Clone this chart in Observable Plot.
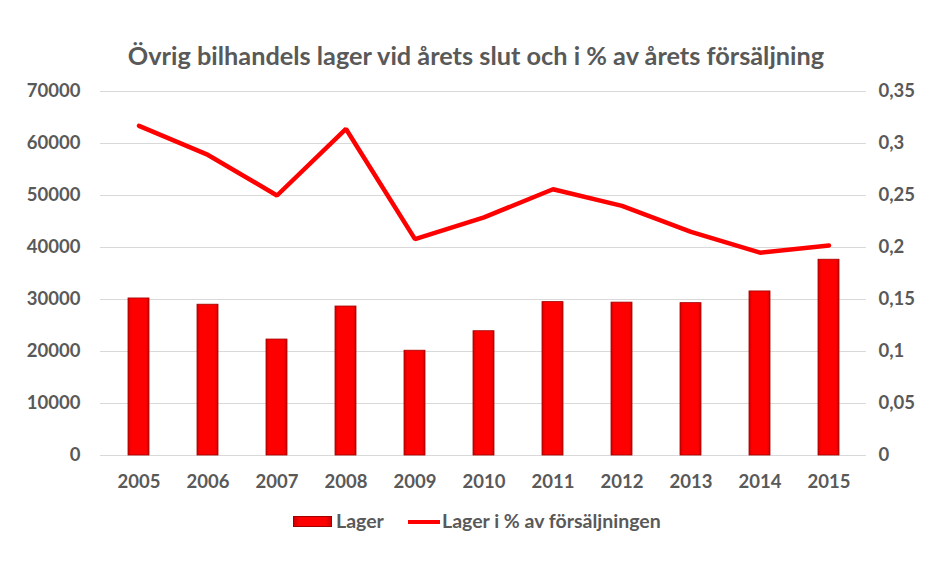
<!DOCTYPE html>
<html>
<head>
<meta charset="utf-8">
<script src="https://cdn.jsdelivr.net/npm/d3@7"></script>
<script src="https://cdn.jsdelivr.net/npm/@observablehq/plot@0.6"></script>
<style>
  html, body { margin: 0; padding: 0; background: #fff; overflow: hidden; width: 952px; height: 570px; }
  #wrap { position: relative; width: 952px; height: 570px; overflow: hidden; font-family: Lato, sans-serif; color: #595959; }
  #title { position: absolute; left: 0; width: 952px; top: 39px; text-align: center; font-weight: bold; font-size: 25.3px; line-height: 32px; }
  #chart { position: absolute; left: 0; top: 0; width: 952px; height: 570px; }
  #chart svg { display: block; max-width: none !important; }
  .leg { position: absolute; font-weight: bold; font-size: 19.5px; line-height: 24px; top: 509px; }
  .sw-bar { position: absolute; left: 293px; top: 516px; width: 39px; height: 11px; background: linear-gradient(to right, #d00000, #ff0000 15%, #ff0000 85%, #d00000); border: 1px solid #a00000; box-sizing: border-box; }
  .sw-line { position: absolute; left: 408px; top: 520px; width: 32px; height: 4px; background: #ff0000; }
</style>
</head>
<body>
<div id="wrap">
  <div id="chart"></div>
  <div id="title">Övrig bilhandels lager vid årets slut och i % av årets försäljning</div>
  <span class="sw-bar"></span><span class="leg" style="left:336px">Lager</span>
  <span class="sw-line"></span><span class="leg" style="left:442px">Lager i % av försäljningen</span>
</div>
<script>
const years = ["2005","2006","2007","2008","2009","2010","2011","2012","2013","2014","2015"];
const lager = [30200, 29000, 22300, 28650, 20150, 23900, 29500, 29400, 29300, 31550, 37650];
const andel = [0.317, 0.289, 0.250, 0.314, 0.208, 0.229, 0.256, 0.240, 0.215, 0.195, 0.202];
const leftTicks = [0, 10000, 20000, 30000, 40000, 50000, 60000, 70000];
const rightTicks = [0, 0.05, 0.1, 0.15, 0.2, 0.25, 0.3, 0.35];

const ratio = 70000 / 0.35;
const bars = years.map((y, i) => ({year: y, value: lager[i]}));
const line = years.map((y, i) => ({year: y, value: andel[i] * ratio}));
const rightPos = rightTicks.map(t => t * ratio);
const fmtRight = d => d === 0 ? "0" : String(+(d / ratio).toFixed(2)).replace(".", ",");

const chart = Plot.plot({
  width: 952,
  height: 570,
  marginTop: 91,
  marginBottom: 115,
  marginLeft: 100,
  marginRight: 86,
  style: { fontFamily: "Lato, sans-serif", fontSize: "18.5px", fontWeight: "bold", color: "#595959", background: "transparent" },
  x: { domain: years, paddingInner: 0.7, paddingOuter: 0.35, align: 0.5 },
  y: { domain: [0, 70000] },
  marks: [
    Plot.ruleY(leftTicks, { stroke: "#d9d9d9", strokeWidth: 1.2 }),
    Plot.axisY(leftTicks, { anchor: "left", tickSize: 0, tickPadding: 20, label: null, tickFormat: d => String(d) }),
    Plot.axisY(rightPos, { anchor: "right", tickSize: 0, tickPadding: 12, label: null, tickFormat: fmtRight, textAnchor: "start" }),
    Plot.axisX({ tickSize: 0, tickPadding: 19, label: null }),
    Plot.barY(bars, { x: "year", y: "value", fill: "url(#barGrad)", stroke: "#a00000", strokeWidth: 0.8 }),
    Plot.lineY(line, { x: "year", y: "value", stroke: "#ff0000", strokeWidth: 4.5, curve: "linear", strokeLinejoin: "miter" })
  ]
});

// gradient for bar bevel look
const ns = "http://www.w3.org/2000/svg";
const defs = document.createElementNS(ns, "defs");
defs.innerHTML = `
  <linearGradient id="barGrad" x1="0" x2="1" y1="0" y2="0">
    <stop offset="0" stop-color="#d00000"/>
    <stop offset="0.15" stop-color="#ff0000"/>
    <stop offset="0.85" stop-color="#ff0000"/>
    <stop offset="1" stop-color="#d00000"/>
  </linearGradient>`;
chart.insertBefore(defs, chart.firstChild);
document.getElementById("chart").appendChild(chart);
</script>
</body>
</html>
